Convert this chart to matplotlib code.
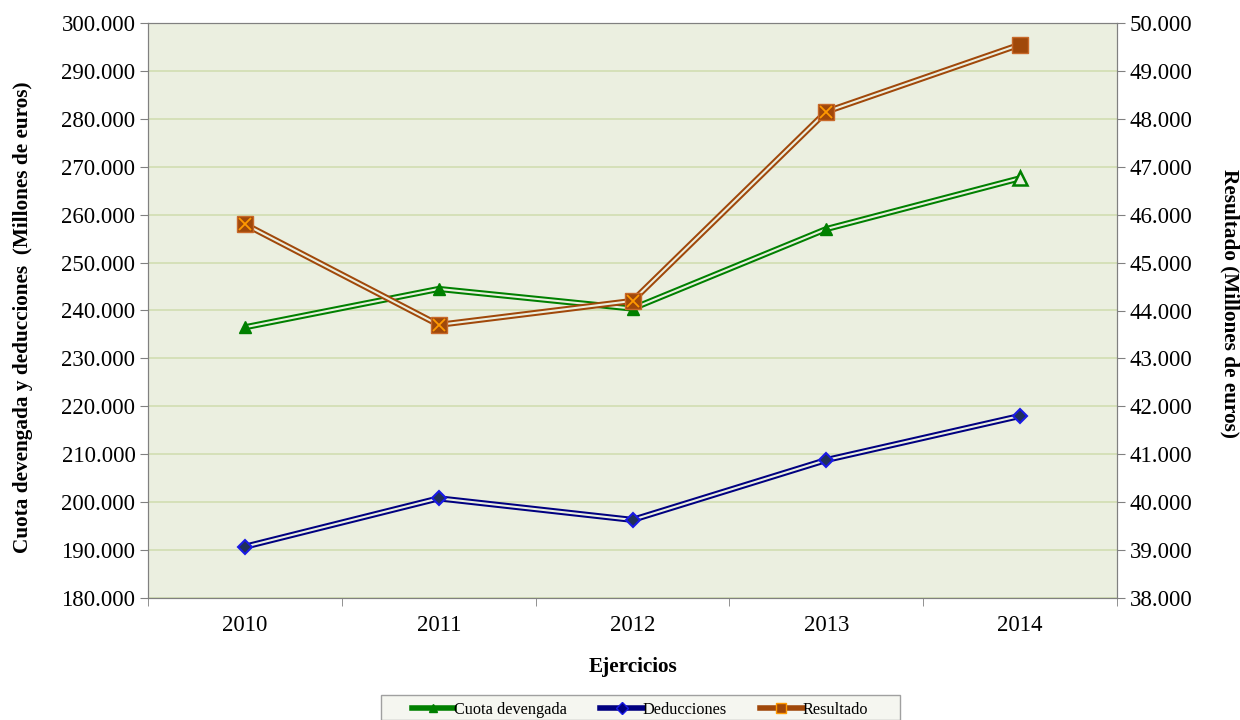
import matplotlib
matplotlib.use("Agg")
import matplotlib.pyplot as plt
from matplotlib.ticker import FuncFormatter, FixedLocator
from matplotlib.lines import Line2D
from matplotlib.patches import Rectangle

years = ["2010", "2011", "2012", "2013", "2014"]
cuota = [236.5, 244.5, 240.4, 257.0, 267.6]          # x1000 millones (left axis)
deducciones = [190.7, 200.8, 196.3, 208.8, 218.0]
resultado = [45.8, 43.7, 44.2, 48.15, 49.55]         # x1000 millones (right axis)

plt.rcParams['font.family'] = ['Liberation Serif', 'DejaVu Serif']

BG = '#EBEFE0'
GRID = '#D3DFB5'
GREEN = '#008000'
BLUE = '#000080'
BLUE_E = '#1A1AE6'
BROWN = '#A0480A'
ORANGE = '#FF9900'
TICKFS = 16.5
LABFS = 15.3

W, H = 1240, 720
fig = plt.figure(figsize=(12.4, 7.2), dpi=100)
ax = fig.add_axes([148/W, 1-598/H, (1117-148)/W, (598-23)/H])
ax2 = ax.twinx()
ax.set_facecolor(BG)
ax.set_zorder(0)
ax2.set_zorder(1)
ax2.patch.set_visible(False)

x = list(range(len(years)))

def dbl(a, xs, ys, color, lw_out=4.4, lw_in=1.5):
    a.plot(xs, ys, color=color, lw=lw_out, solid_capstyle='butt', zorder=3)
    a.plot(xs, ys, color=BG, lw=lw_in, solid_capstyle='butt', zorder=4)

cv = [v * 1000 for v in cuota]
dv = [v * 1000 for v in deducciones]
rv = [v * 1000 for v in resultado]

dbl(ax, x, cv, GREEN)
ax.plot(x[:-1], cv[:-1], ls='none', marker='^', ms=9, color=GREEN, zorder=5)
ax.plot(x[-1:], cv[-1:], ls='none', marker='^', ms=10, mfc=BG, mec=GREEN, mew=1.8, zorder=5)

dbl(ax, x, dv, BLUE)
ax.plot(x, dv, ls='none', marker='D', ms=7, mfc='#20305A', mec=BLUE_E, mew=1.5, zorder=5)

dbl(ax2, x, rv, BROWN)
ax2.plot(x, rv, ls='none', marker='s', ms=11, mfc=BROWN, mec='#C8692A', mew=1, zorder=5)
ax2.plot(x[:-1], rv[:-1], ls='none', marker='x', ms=9, mec=ORANGE, mew=1.3, zorder=6)

ax.set_xlim(-0.5, 4.5)
ax.set_ylim(180000, 300000)
ax2.set_ylim(38000, 50000)
ax.set_yticks(range(180000, 300001, 10000))
ax2.set_yticks(range(38000, 50001, 1000))
fmt = FuncFormatter(lambda v, p: f"{int(v):,}".replace(",", "."))
ax.yaxis.set_major_formatter(fmt)
ax2.yaxis.set_major_formatter(fmt)
ax.yaxis.grid(True, color=GRID, lw=1.3)
ax.set_axisbelow(True)

ax.set_xticks(x)
ax.set_xticklabels(years)
ax.xaxis.set_minor_locator(FixedLocator([i + 0.5 for i in range(-1, 5)]))
ax.tick_params(axis='x', which='major', length=0, pad=12, labelsize=TICKFS)
ax.tick_params(axis='x', which='minor', length=6, color='#808080')
ax.tick_params(axis='y', labelsize=TICKFS, length=6, color='#808080', pad=3)
ax2.tick_params(axis='y', labelsize=TICKFS, length=6, color='#808080', pad=3)

for a in (ax, ax2):
    for s in a.spines.values():
        s.set_color('#808080')

ax.set_xlabel('Ejercicios', fontsize=LABFS, fontweight='bold', va='center')
ax.xaxis.set_label_coords(0.5005, -0.12)
ax.set_ylabel('Cuota devengada y deducciones  (Millones de euros)', fontsize=LABFS,
              fontweight='bold', va='center')
ax.yaxis.set_label_coords(-0.1295, 0.489)
ax2.set_ylabel('Resultado (Millones de euros)', fontsize=LABFS, fontweight='bold',
               rotation=270, va='center')
ax2.yaxis.set_label_coords(1.1166, 0.512)

# legend frame
fig.patches.append(Rectangle((381/W, 0), (900-381)/W, (720-696)/H + 0.002,
                             transform=fig.transFigure, facecolor='#F5F6F0',
                             edgecolor='#A0A0A0', lw=1, zorder=0))
handles = [
    Line2D([], [], color=GREEN, lw=4, marker='^', ms=6, mfc=GREEN, mec=GREEN),
    Line2D([], [], color=BLUE, lw=4, marker='D', ms=6, mfc=BLUE, mec=BLUE_E),
    Line2D([], [], color=BROWN, lw=4, marker='s', ms=7, mfc=BROWN, mec=ORANGE),
]
leg = fig.legend(handles, ['Cuota devengada', 'Deducciones', 'Resultado'],
                 loc='center', bbox_to_anchor=(640/W, 1 - 710/H), ncol=3,
                 fontsize=11.7, frameon=False, handlelength=2.6,
                 handletextpad=0.0, columnspacing=2.05, borderpad=0.0)

fig.savefig('out.png', dpi=100)
